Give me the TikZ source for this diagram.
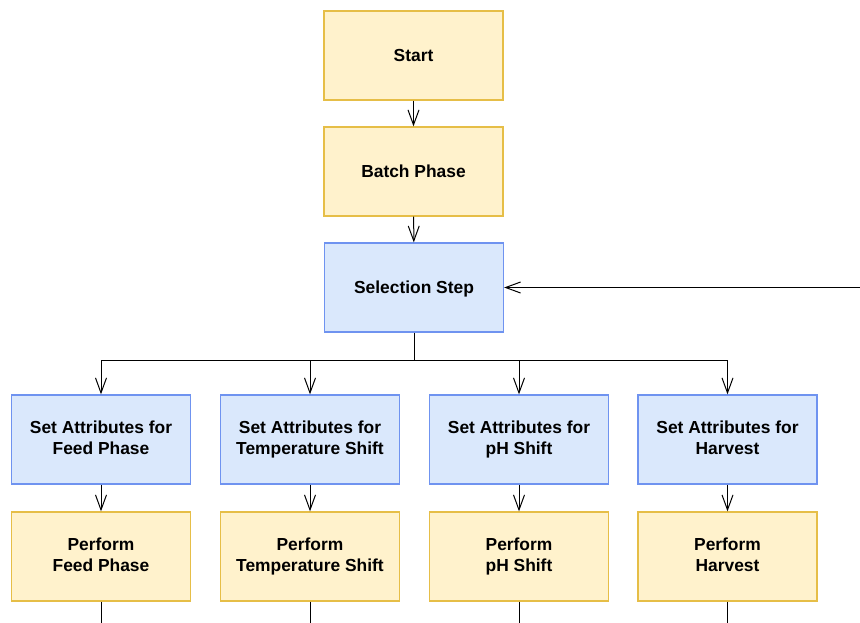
\documentclass[tikz,border=0pt]{standalone}
\usepackage{fontspec}
\setmainfont{Liberation Sans}
\usetikzlibrary{arrows.meta,positioning}

\definecolor{yfill}{HTML}{FFF2CC}
\definecolor{ydraw}{HTML}{E6BE47}
\definecolor{bfill}{HTML}{DAE8FC}
\definecolor{bdraw}{HTML}{6F93F0}

\newcommand{\boxstrut}{\rule[-4.3pt]{0pt}{21pt}}

\tikzset{
  box/.style={rectangle,draw,line width=1.3pt,minimum width=179pt,minimum height=89pt,
    align=center,inner sep=2pt,font=\fontsize{17.4}{21}\selectfont\bfseries,
    execute at begin node=\boxstrut,execute at end node=\boxstrut},
  phasebox/.style={box,fill=yfill,draw=ydraw},
  attrbox/.style={box,fill=bfill,draw=bdraw},
  flow/.style={line width=1pt,-{Straight Barb[length=15pt,width=11pt,line width=1pt]}}
}

\begin{document}
\begin{tikzpicture}[x=1pt,y=-1pt]
			\useasboundingbox (0,0) rectangle (860,622);
			
			% Main column
			\node[phasebox] (start) at (413.5,55.5) {Start};
			\node[phasebox] (batch) at (413.5,171.5) {Batch Phase};
			\node[attrbox] (select) at (414,287.5) {Selection Step};
			
			% Attribute boxes
			\node[attrbox] (attrfeed) at (101,439.5) {Set Attributes for\\Feed Phase};
			\node[attrbox] (attrtemp) at (310,439.5) {Set Attributes for\\Temperature Shift};
			\node[attrbox] (attrph) at (519,439.5) {Set Attributes for\\pH Shift};
			\node[attrbox] (attrharv) at (727.5,439.5) {Set Attributes for\\Harvest};
			
			% Perform boxes
			\node[phasebox] (dofeed) at (101,556.5) {Perform\\Feed Phase};
			\node[phasebox] (dotemp) at (310,556.5) {Perform\\Temperature Shift};
			\node[phasebox] (doph) at (519,556.5) {Perform\\pH Shift};
			\node[phasebox] (doharv) at (727.5,556.5) {Perform\\Harvest};
			
			% Helper points
			\coordinate (split) at (414,360);
			\coordinate (loopin) at (860,287.5);
			
			% Edges
			\draw[flow] (start) -- (batch);
			\draw[flow] (batch) -- (select);
			\draw[flow] (loopin) -- (select);
			\draw[line width=1pt] (select) -- (split);
			\foreach \a/\b in {attrfeed/dofeed,attrtemp/dotemp,attrph/doph,attrharv/doharv}{
				\draw[flow] (split) -| (\a);
				\draw[flow] (\a) -- (\b);
				\draw[line width=1pt] (\b.south) -- ++(0,22);
			}
			
		\end{tikzpicture}
\end{document}
